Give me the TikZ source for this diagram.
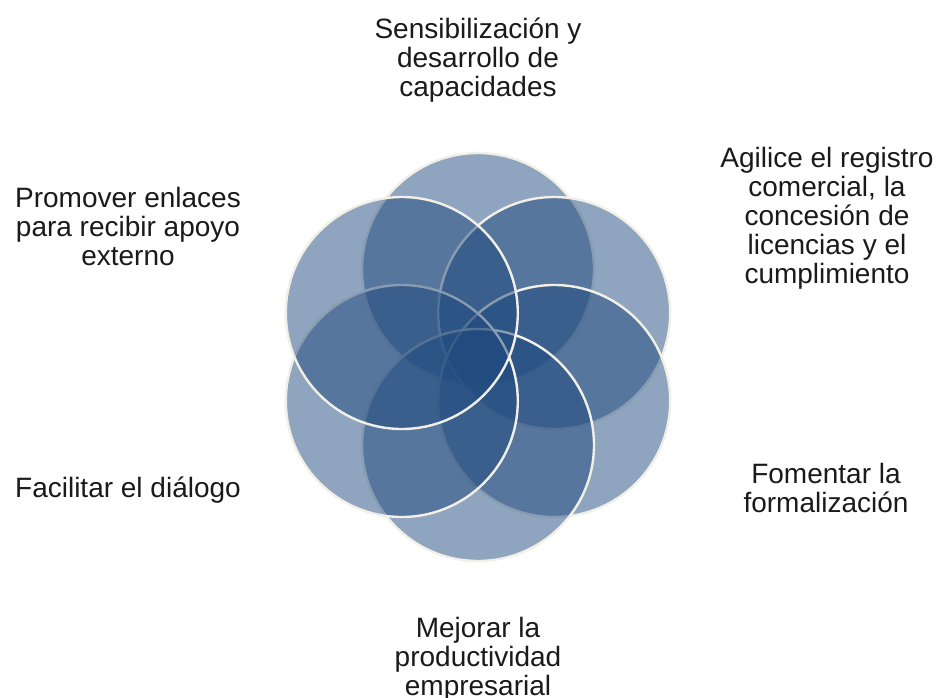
\documentclass[tikz,border=0pt]{standalone}
\usepackage{fontspec}
\setmainfont{Liberation Sans}
\definecolor{petal}{HTML}{1F497D}
\definecolor{rim}{HTML}{F2F0E6}
\definecolor{ink}{HTML}{1A1A1A}
\begin{document}
\begin{tikzpicture}[x=1pt,y=-1pt,
  petalc/.style={circle, minimum size=232pt, inner sep=0pt, fill=petal, fill opacity=0.5, draw=rim, draw opacity=1, line width=2.4pt},
  lbl/.style={align=center, text=ink, font=\fontsize{28}{29}\selectfont, inner sep=0pt}]
\useasboundingbox (0,0) rectangle (939,698);
% circles in drawing order
\node[petalc] (top) at (478,269) {};
\node[petalc] (ur)  at (554.2,313) {};
\node[petalc] (lr)  at (554.2,401) {};
\node[petalc] (bot) at (478,445) {};
\node[petalc] (ll)  at (401.8,401) {};
\node[petalc] (ul)  at (401.8,313) {};
% labels
\node[lbl] (tTop) at (478,60) {Sensibilización y\\desarrollo de\\capacidades};
\node[lbl] (tUR) at (827,218) {Agilice el registro\\comercial, la\\concesión de\\licencias y el\\cumplimiento};
\node[lbl] (tR) at (826,488) {Fomentar la\\formalización};
\node[lbl] (tB) at (478,659) {Mejorar la\\productividad\\empresarial};
\node[lbl] (tL) at (128,490) {Facilitar el diálogo};
\node[lbl] (tUL) at (128,226) {Promover enlaces\\para recibir apoyo\\externo};
\end{tikzpicture}
\end{document}
